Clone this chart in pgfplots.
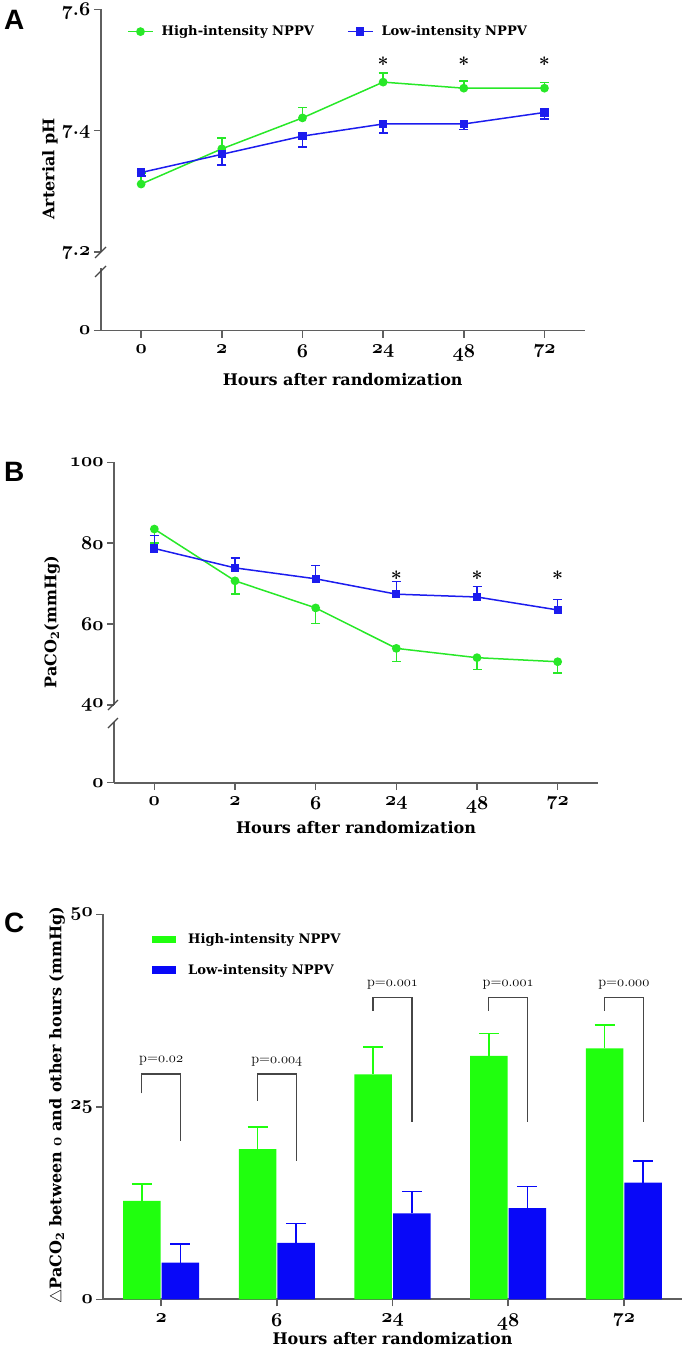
\RequirePackage{fix-cm}
\documentclass[border=0pt]{standalone}
\usepackage{fontspec}
\usepackage{pgfplots}
\pgfplotsset{compat=1.18}
\newfontfamily\panelfont{Liberation Sans}
\newfontfamily\dvs{DejaVu Serif}
\definecolor{hg}{RGB}{40,232,40}
\definecolor{lb}{RGB}{28,28,238}
\definecolor{barg}{RGB}{32,255,14}
\definecolor{barb}{RGB}{8,8,248}
\definecolor{axg}{RGB}{95,95,95}
\definecolor{brk}{RGB}{70,70,70}
\newcommand\osn[1]{{\usefont{OML}{cmm}{b}{it}#1}}
\newcommand\osr[1]{{\usefont{OML}{cmm}{m}{it}#1}}
\newcommand\fTick{\bfseries\fontsize{19.5}{23}\selectfont}
\newcommand\fTitle{\dvs\bfseries\fontsize{16}{19}\selectfont}
\newcommand\fLeg{\dvs\bfseries\fontsize{13.1}{16}\selectfont}
\newcommand\fPval{\fontsize{14.4}{17}\selectfont}
\newcommand\fPanel{\panelfont\bfseries\fontsize{28}{30}\selectfont}

\pgfplotstableread{
x y e
0 7.312 0.018
1 7.370 0.018
2 7.421 0.017
3 7.480 0.015
4 7.470 0.012
5 7.470 0.009
}\phigh
\pgfplotstableread{
x y e
0 7.331 0.006
1 7.361 0.018
2 7.391 0.018
3 7.411 0.015
4 7.411 0.009
5 7.430 0.011
}\plow
\pgfplotstableread{
x y e
0 83.5 3.5
1 70.7 3.3
2 64.0 3.9
3 54.0 3.3
4 51.7 2.9
5 50.7 2.8
}\chigh
\pgfplotstableread{
x y e
0 78.7 3.2
1 73.9 2.5
2 71.2 3.3
3 67.4 3.1
4 66.7 2.6
5 63.5 2.6
}\clow
\pgfplotstableread{
x y e
0 12.8 2.2
1 19.5 2.9
2 29.2 3.6
3 31.6 2.9
4 32.6 3.0
}\dhigh
\pgfplotstableread{
x y e
0 4.75 2.4
1 7.33 2.5
2 11.15 2.85
3 11.85 2.8
4 15.15 2.8
}\dlow

\pgfplotsset{
  base/.style={scale only axis, anchor=south west, clip=false,
    axis line style={axg, line width=1.8pt},
    major tick style={axg, line width=1.5pt}, major tick length=7pt, tick align=outside,
    ticklabel style={font=\fTick}, xticklabel style={yshift=-4pt}, xmin=-0.5},
  lineleg/.style={legend image code/.code={\draw[mark repeat=2,mark phase=2,##1] plot coordinates {(0pt,0pt) (12.5pt,0pt) (25pt,0pt)}; \path (31pt,0pt);}},
}

\begin{document}
\begin{tikzpicture}
\useasboundingbox (0pt,0pt) rectangle (685pt,-1348pt);

% ---------------- Panel A ----------------
\begin{axis}[base, at={(100.8pt,-252pt)}, width=484pt, height=242.7pt,
  xmax=5.5, ymin=7.2, ymax=7.6, axis x line=none, axis y line*=left,
  ytick={7.2,7.4,7.6}, yticklabels={{\osn{7}.\osn{2}},{\osn{7}.\osn{4}},{\osn{7}.\osn{6}}},
  yticklabel style={yshift=-1.5pt},
  legend columns=2,
  legend style={draw=none, fill=none, at={(0.048,0.908)}, anchor=west, font=\fLeg,
    /tikz/every even column/.append style={column sep=31pt}},
  legend cell align=left]
\addplot[lineleg, hg, line width=1.5pt, mark=*, mark size=3.6pt,
    mark options={solid, fill=hg, draw=hg},
    error bars/.cd, y dir=plus, y explicit,
    error bar style={hg, line width=1.5pt},
    error mark options={hg, line width=1.5pt, mark size=4.5pt, rotate=90}]
  table[x=x,y=y,y error=e] {\phigh};
\addplot[lineleg, lb, line width=1.5pt, mark=square*, mark size=3.4pt,
    mark options={solid, fill=lb, draw=lb},
    error bars/.cd, y dir=minus, y explicit,
    error bar style={lb, line width=1.5pt},
    error mark options={lb, line width=1.5pt, mark size=4.5pt, rotate=90}]
  table[x=x,y=y,y error=e] {\plow};
\legend{High-intensity NPPV, Low-intensity NPPV}
\node[font=\fTick] at (axis cs:3,7.510) {*};
\node[font=\fTick] at (axis cs:4,7.510) {*};
\node[font=\fTick] at (axis cs:5,7.510) {*};
\end{axis}
\begin{axis}[base, at={(100.8pt,-330.5pt)}, width=484pt, height=63pt,
  xmax=5.5, ymin=0, ymax=1, axis x line*=bottom, axis y line*=left,
  ytick={0}, yticklabels={\osn{0}},
  xtick={0,1,2,3,4,5}, xticklabels={\osn{0},\osn{2},\osn{6},\osn{24},\osn{48},\osn{72}}]
\end{axis}
\draw[brk, line width=1.3pt] (95pt,-258pt) -- (106pt,-247pt);
\draw[brk, line width=1.3pt] (95pt,-277pt) -- (106pt,-266pt);
\node[rotate=90, font=\fTitle] at (50pt,-169pt) {Arterial pH};
\node[font=\fTitle] at (342.7pt,-380pt) {Hours after randomization};
\node[anchor=north west, inner sep=0pt, font=\fPanel] at (4pt,-10pt) {A};

% ---------------- Panel B ----------------
\begin{axis}[base, at={(114pt,-705pt)}, width=484pt, height=242.7pt,
  xmax=5.5, ymin=40, ymax=100, axis x line=none, axis y line*=left,
  ytick={40,60,80,100}, yticklabels={\osn{40},\osn{60},\osn{80},\osn{100}}]
\addplot[hg, line width=1.5pt, mark=*, mark size=3.6pt,
    mark options={solid, fill=hg, draw=hg},
    error bars/.cd, y dir=minus, y explicit,
    error bar style={hg, line width=1.5pt},
    error mark options={hg, line width=1.5pt, mark size=4.5pt, rotate=90}]
  table[x=x,y=y,y error=e] {\chigh};
\addplot[lb, line width=1.5pt, mark=square*, mark size=3.4pt,
    mark options={solid, fill=lb, draw=lb},
    error bars/.cd, y dir=plus, y explicit,
    error bar style={lb, line width=1.5pt},
    error mark options={lb, line width=1.5pt, mark size=4.5pt, rotate=90}]
  table[x=x,y=y,y error=e] {\clow};
\node[font=\fTick] at (axis cs:3,71.4) {*};
\node[font=\fTick] at (axis cs:4,71.4) {*};
\node[font=\fTick] at (axis cs:5,71.4) {*};
\end{axis}
\begin{axis}[base, at={(114pt,-782.7pt)}, width=484pt, height=61pt,
  xmax=5.5, ymin=0, ymax=1, axis x line*=bottom, axis y line*=left,
  ytick={0}, yticklabels={\osn{0}},
  xtick={0,1,2,3,4,5}, xticklabels={\osn{0},\osn{2},\osn{6},\osn{24},\osn{48},\osn{72}}]
\end{axis}
\draw[brk, line width=1.3pt] (108pt,-710pt) -- (118pt,-700pt);
\draw[brk, line width=1.3pt] (108pt,-728pt) -- (118pt,-718pt);
\node[rotate=90, font=\fTitle] at (52pt,-622pt) {PaCO\textsubscript{2}(mmHg)};
\node[font=\fTitle] at (356pt,-828pt) {Hours after randomization};
\node[anchor=north west, inner sep=0pt, font=\fPanel] at (4pt,-462pt) {B};

% ---------------- Panel C ----------------
\begin{axis}[base, at={(103.3pt,-1299.3pt)}, width=578.4pt, height=385pt,
  xmax=4.5, ymin=0, ymax=50, axis x line*=bottom, axis y line*=left,
  ybar=1.1pt, bar width=37.5pt,
  ytick={0,25,50}, yticklabels={\osn{0},\osn{25},\osn{50}},
  xtick={0,1,2,3,4}, xticklabels={\osn{2},\osn{6},\osn{24},\osn{48},\osn{72}},
  legend style={draw=none, fill=none, at={(0.079,0.96)}, anchor=north west, font=\fLeg,
    row sep=15pt},
  legend cell align=left]
\addplot[fill=barg, draw=none,
  legend image code/.code={\fill[barg] (0pt,-3.6pt) rectangle (24pt,3.6pt); \path (34pt,0pt);},
  error bars/.cd, y dir=plus, y explicit,
  error bar style={barg, line width=1.6pt},
  error mark options={barg, line width=1.6pt, mark size=10pt, rotate=90}]
  table[x=x,y=y,y error=e] {\dhigh};
\addplot[fill=barb, draw=none,
  legend image code/.code={\fill[barb] (0pt,-3.6pt) rectangle (24pt,3.6pt); \path (34pt,0pt);},
  error bars/.cd, y dir=plus, y explicit,
  error bar style={barb, line width=1.6pt},
  error mark options={barb, line width=1.6pt, mark size=10pt, rotate=90}]
  table[x=x,y=y,y error=e] {\dlow};
\legend{High-intensity NPPV, Low-intensity NPPV}
\draw[brk, line width=1.3pt] (axis cs:-0.168,26.75) -- (axis cs:-0.168,29.26) -- (axis cs:0.168,29.26) -- (axis cs:0.168,20.6);
\draw[brk, line width=1.3pt] (axis cs:0.832,25.8) -- (axis cs:0.832,29.26) -- (axis cs:1.168,29.26) -- (axis cs:1.168,17.96);
\draw[brk, line width=1.3pt] (axis cs:1.832,37.5) -- (axis cs:1.832,39.2) -- (axis cs:2.168,39.2) -- (axis cs:2.168,23.0);
\draw[brk, line width=1.3pt] (axis cs:2.832,37.5) -- (axis cs:2.832,39.2) -- (axis cs:3.168,39.2) -- (axis cs:3.168,23.0);
\draw[brk, line width=1.3pt] (axis cs:3.832,37.5) -- (axis cs:3.832,39.2) -- (axis cs:4.168,39.2) -- (axis cs:4.168,23.0);
\node[font=\fPval] at (axis cs:0,30.95) {p=\osr{0}.\osr{02}};
\node[font=\fPval] at (axis cs:1,30.8) {p=\osr{0}.\osr{004}};
\node[font=\fPval] at (axis cs:2,40.8) {p=\osr{0}.\osr{001}};
\node[font=\fPval] at (axis cs:3,40.8) {p=\osr{0}.\osr{001}};
\node[font=\fPval] at (axis cs:4,40.8) {p=\osr{0}.\osr{000}};
\end{axis}
\node[rotate=90, font=\fTitle] at (57pt,-1105pt) {$\triangle$PaCO\textsubscript{2} between \osn{0} and other hours (mmHg)};
\node[font=\fTitle] at (392.5pt,-1339pt) {Hours after randomization};
\node[anchor=north west, inner sep=0pt, font=\fPanel] at (4pt,-913pt) {C};
\end{tikzpicture}
\end{document}
